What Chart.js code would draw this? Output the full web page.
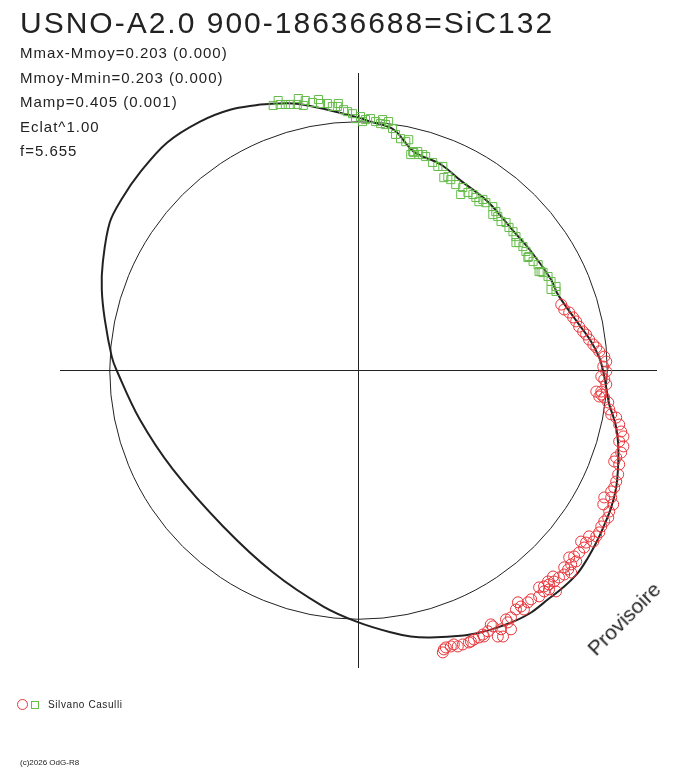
<!DOCTYPE html>
<html>
<head>
<meta charset="utf-8">
<script src="https://cdn.jsdelivr.net/npm/chart.js@4.4.1/dist/chart.umd.min.js"></script>
<style>
  body { margin: 0; background: #fff; }
  #wrap { position: relative; width: 688px; height: 768px; font-family: "Liberation Sans", Arial, sans-serif; color: #222; }
  #wrap canvas { position: absolute; left: 0; top: 0; }
  .txt { position: absolute; white-space: nowrap; line-height: 1; }
  #title { left: 20px; top: 8px; font-size: 30px; letter-spacing: 2px; }
  .info { left: 20px; font-size: 15px; letter-spacing: 1px; }
  #legend { left: 17px; top: 699px; font-size: 10px; letter-spacing: 0.6px; }
  .mk { position: absolute; box-sizing: border-box; }
  #copy { left: 20px; top: 759px; font-size: 8px; }
  #prov { left: 577px; top: 608px; font-size: 21px; transform: rotate(-45deg); transform-origin: 50% 50%; }
</style>
</head>
<body>
<div id="wrap">
  <canvas id="phaseChart" width="688" height="768"></canvas>
  <div class="txt" id="title">USNO-A2.0 900-18636688=SiC132</div>
  <div class="txt info" style="top:45px">Mmax-Mmoy=0.203 (0.000)</div>
  <div class="txt info" style="top:70px">Mmoy-Mmin=0.203 (0.000)</div>
  <div class="txt info" style="top:94px">Mamp=0.405 (0.001)</div>
  <div class="txt info" style="top:119px">Eclat^1.00</div>
  <div class="txt info" style="top:143px">f=5.655</div>
  <div class="txt" id="legend">
    <span class="mk" style="left:0;top:0;width:11px;height:11px;border:1px solid #e8353a;border-radius:50%"></span>
    <span class="mk" style="left:14px;top:2px;width:8px;height:8px;border:1px solid #66bb4a"></span>
    <span style="position:absolute;left:31px;top:1px">Silvano Casulli</span>
  </div>
  <div class="txt" id="copy">(c)2026 OdG-R8</div>
  <div class="txt" id="prov">Provisoire</div>
</div>
<script>
// fitted light curve in polar view (units: reference circle radius = 1)
var curveX = [-0.395, -0.262, -0.125, 0.000, 0.048, 0.141, 0.222, 0.331, 0.411, 0.520, 0.625, 0.694, 0.774,
  0.802, 0.887, 0.935, 0.968, 0.984, 0.996, 1.008, 1.024, 1.036, 1.044, 1.044, 1.036, 1.016, 0.984, 0.956,
  0.923, 0.883, 0.827, 0.762, 0.694, 0.625, 0.560, 0.492, 0.423, 0.290, 0.210, 0.129, 0.000, -0.141, -0.343,
  -0.544, -0.746, -0.879, -0.972, -0.992, -1.020, -1.032, -1.028, -1.000, -0.948, -0.879, -0.770, -0.637,
  -0.516, -0.395];
var curveY = [1.073, 1.077, 1.052, 1.020, 1.004, 0.972, 0.883, 0.831, 0.766, 0.681, 0.560, 0.480, 0.367,
  0.306, 0.185, 0.117, 0.052, -0.004, -0.069, -0.137, -0.185, -0.230, -0.298, -0.379, -0.472, -0.552, -0.633,
  -0.694, -0.754, -0.815, -0.871, -0.923, -0.976, -1.012, -1.036, -1.056, -1.069, -1.077, -1.073, -1.056,
  -1.016, -0.952, -0.815, -0.629, -0.399, -0.198, 0.000, 0.056, 0.206, 0.327, 0.435, 0.597, 0.698, 0.798,
  0.919, 1.004, 1.052, 1.073];

// observations, series 1 (green squares)
var greenX = [-0.343, -0.323, -0.315, -0.294, -0.274, -0.246, -0.242, -0.222, -0.214, -0.185, -0.161, -0.153,
  -0.125, -0.105, -0.085, -0.081, -0.060, -0.044, -0.024, -0.012, 0.008, 0.016, 0.028, 0.048, 0.069, 0.089,
  0.097, 0.109, 0.121, 0.137, 0.149, 0.169, 0.190, 0.202, 0.210, 0.218, 0.222, 0.238, 0.242, 0.258, 0.270,
  0.298, 0.319, 0.339, 0.343, 0.359, 0.371, 0.391, 0.411, 0.419, 0.440, 0.460, 0.472, 0.484, 0.500, 0.512,
  0.540, 0.540, 0.552, 0.560, 0.573, 0.593, 0.605, 0.621, 0.633, 0.633, 0.645, 0.661, 0.673, 0.681, 0.685,
  0.702, 0.722, 0.726, 0.734, 0.742, 0.762, 0.774, 0.774, 0.794, 0.794];
var greenY = [1.069, 1.089, 1.073, 1.073, 1.073, 1.073, 1.097, 1.069, 1.089, 1.081, 1.093, 1.077, 1.077,
  1.065, 1.065, 1.077, 1.052, 1.044, 1.036, 1.016, 1.024, 1.004, 1.012, 1.016, 1.004, 0.996, 1.012, 0.992,
  1.004, 0.976, 0.952, 0.935, 0.923, 0.931, 0.871, 0.883, 0.879, 0.883, 0.871, 0.871, 0.863, 0.839, 0.823,
  0.823, 0.778, 0.782, 0.770, 0.750, 0.710, 0.738, 0.718, 0.710, 0.698, 0.681, 0.690, 0.677, 0.661, 0.629,
  0.641, 0.621, 0.601, 0.597, 0.577, 0.560, 0.540, 0.516, 0.516, 0.500, 0.480, 0.456, 0.460, 0.440, 0.427,
  0.399, 0.399, 0.395, 0.379, 0.359, 0.327, 0.339, 0.319];

// observations, series 2 (red circles)
var redX = [0.815, 0.827, 0.847, 0.863, 0.875, 0.887, 0.903, 0.915, 0.927, 0.944, 0.956, 0.968, 0.988, 0.996,
  0.984, 0.996, 0.976, 0.988, 0.996, 0.976, 0.956, 0.976, 0.968, 0.988, 1.004, 1.008, 1.016, 1.036, 1.048,
  1.056, 1.065, 1.048, 1.065, 1.056, 1.036, 1.028, 1.048, 1.044, 1.036, 1.028, 1.016, 1.016, 0.988, 1.024,
  0.984, 1.008, 1.004, 0.988, 0.976, 0.968, 0.956, 0.927, 0.944, 0.915, 0.895, 0.907, 0.887, 0.867, 0.875,
  0.847, 0.855, 0.843, 0.827, 0.855, 0.827, 0.806, 0.782, 0.786, 0.762, 0.766, 0.746, 0.726, 0.766, 0.794,
  0.746, 0.726, 0.694, 0.681, 0.665, 0.653, 0.641, 0.633, 0.613, 0.600, 0.593, 0.613, 0.573, 0.540, 0.532,
  0.520, 0.560, 0.581, 0.504, 0.500, 0.484, 0.464, 0.452, 0.444, 0.419, 0.399, 0.383, 0.371, 0.351, 0.343,
  0.339];
var redY = [0.266, 0.246, 0.234, 0.214, 0.198, 0.177, 0.157, 0.145, 0.125, 0.105, 0.093, 0.077, 0.056, 0.036,
  0.016, -0.004, -0.024, -0.036, -0.056, -0.085, -0.085, -0.097, -0.105, -0.109, -0.129, -0.157, -0.177,
  -0.190, -0.218, -0.246, -0.266, -0.286, -0.306, -0.331, -0.351, -0.367, -0.379, -0.419, -0.448, -0.472,
  -0.488, -0.512, -0.512, -0.540, -0.540, -0.569, -0.593, -0.609, -0.629, -0.653, -0.669, -0.669, -0.690,
  -0.694, -0.690, -0.714, -0.734, -0.750, -0.770, -0.754, -0.782, -0.802, -0.794, -0.815, -0.823, -0.835,
  -0.831, -0.851, -0.851, -0.863, -0.871, -0.875, -0.883, -0.891, -0.891, -0.911, -0.923, -0.935, -0.964,
  -0.952, -0.935, -0.964, -0.996, -1.016, -1.004, -1.044, -1.044, -1.032, -1.024, -1.052, -1.073, -1.073,
  -1.073, -1.065, -1.077, -1.085, -1.093, -1.097, -1.105, -1.113, -1.105, -1.113, -1.117, -1.125, -1.137];

var axisMin = -1.2, axisMax = 1.2;
var circleRadius = 1.0;

function pts(xs, ys) {
  return xs.map(function (x, i) { return { x: x, y: ys[i] }; });
}

// reference circle of radius 1 around the origin
var refCircle = {
  id: "refCircle",
  beforeDatasetsDraw: function (chart) {
    var sx = chart.scales.x, sy = chart.scales.y;
    var cx = sx.getPixelForValue(0), cy = sy.getPixelForValue(0);
    var r = sx.getPixelForValue(circleRadius) - cx;
    var ctx = chart.ctx;
    ctx.save();
    ctx.strokeStyle = "#222";
    ctx.lineWidth = 1;
    ctx.beginPath();
    ctx.arc(cx, cy, r, 0, Math.PI * 2);
    ctx.stroke();
    ctx.restore();
  }
};

var ctx = document.getElementById("phaseChart").getContext("2d");
var myChart = new Chart(ctx, {
  type: "scatter",
  data: {
    datasets: [
      {
        data: pts(redX, redY),
        pointStyle: "circle",
        pointRadius: 5.5,
        borderColor: "#e8353a",
        backgroundColor: "rgba(0,0,0,0)",
        borderWidth: 1,
      },
      {
        data: pts(greenX, greenY),
        pointStyle: "rect",
        pointRadius: 5.7,
        borderColor: "#66bb4a",
        backgroundColor: "rgba(0,0,0,0)",
        borderWidth: 1,
      },
      {
        data: pts(curveX, curveY),
        showLine: true,
        pointRadius: 0,
        borderColor: "#222",
        borderWidth: 2,
        tension: 0.35,
      },
      {
        data: [{ x: axisMin, y: 0 }, { x: axisMax, y: 0 }],
        showLine: true,
        pointRadius: 0,
        borderColor: "#222",
        borderWidth: 1,
      },
      {
        data: [{ x: 0, y: axisMin }, { x: 0, y: axisMax }],
        showLine: true,
        pointRadius: 0,
        borderColor: "#222",
        borderWidth: 1,
      },
    ],
  },
  options: {
    responsive: false,
    animation: false,
    devicePixelRatio: 1,
    layout: { padding: { left: 60, right: 31, top: 73, bottom: 100 } },
    scales: {
      x: { type: "linear", min: axisMin, max: axisMax, display: false },
      y: { type: "linear", min: axisMin, max: axisMax, display: false },
    },
    plugins: {
      legend: { display: false },
      tooltip: { enabled: false },
    },
  },
  plugins: [refCircle],
});
</script>
</body>
</html>
